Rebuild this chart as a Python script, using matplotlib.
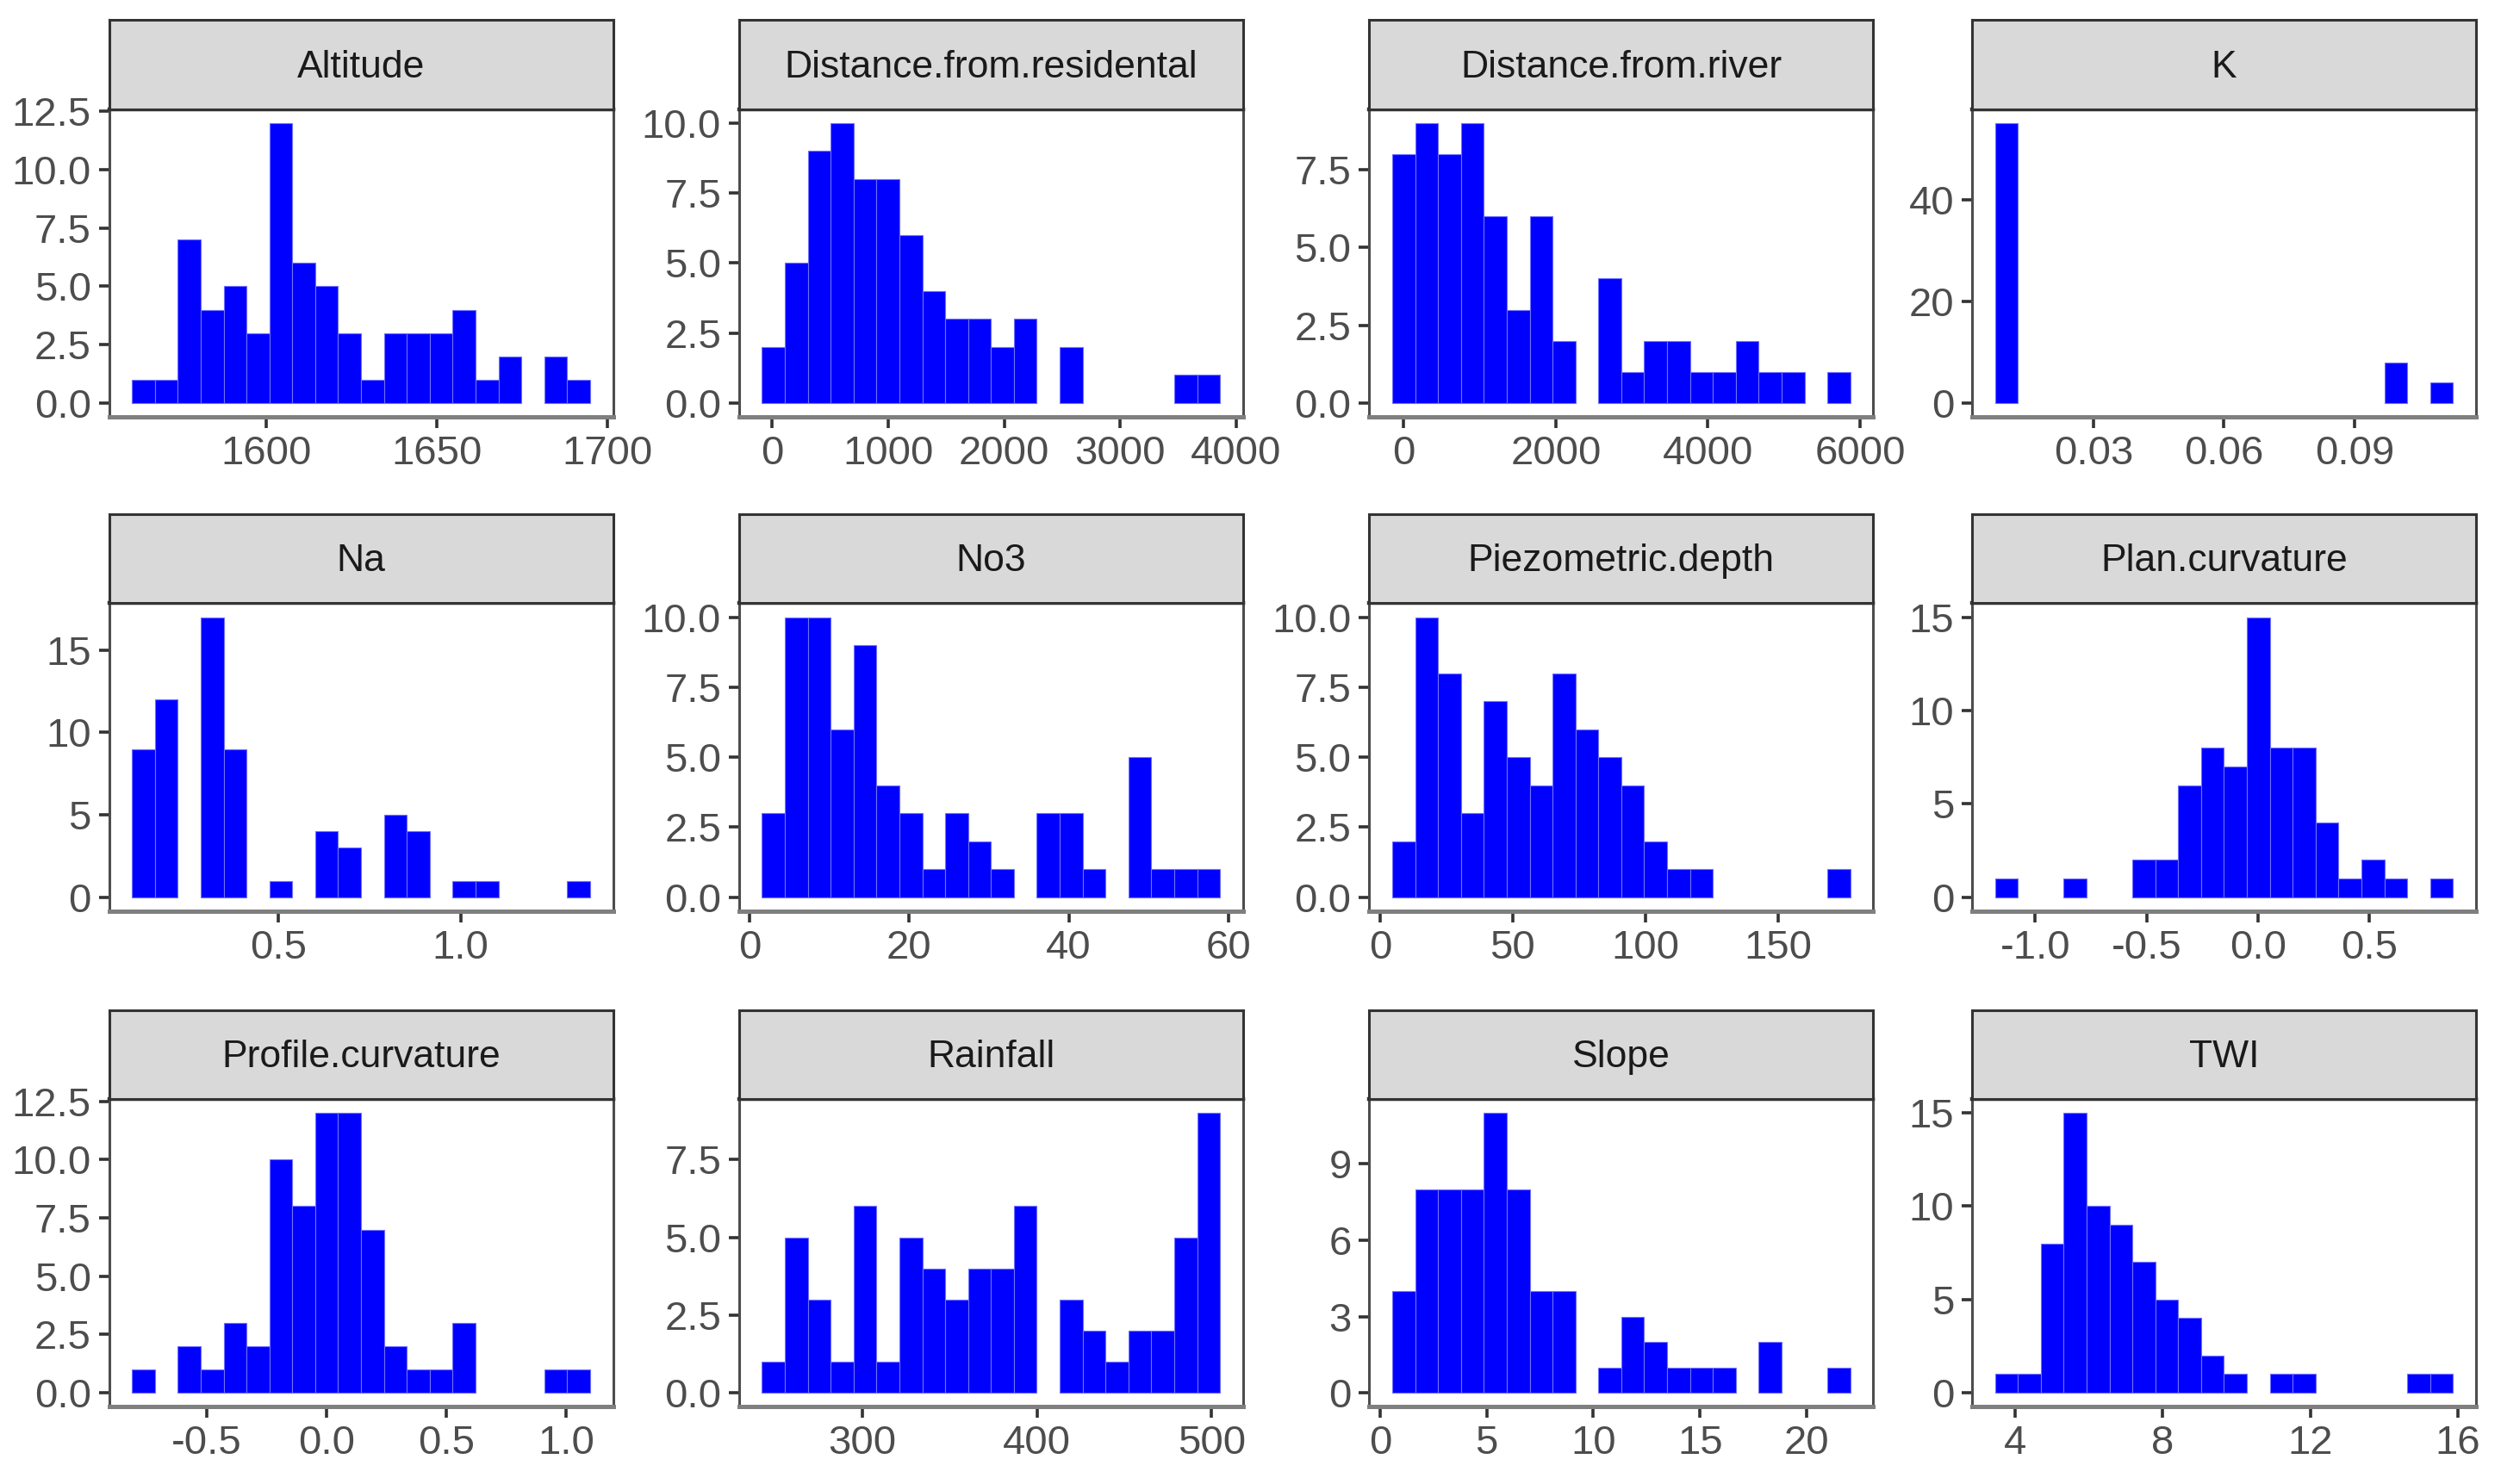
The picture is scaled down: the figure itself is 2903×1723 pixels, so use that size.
import numpy as np
import matplotlib
matplotlib.use("Agg")
import matplotlib.pyplot as plt
from matplotlib import font_manager

# histogram counts (20 bins per variable, n = 67)
names = ["Altitude", "Distance.from.residental", "Distance.from.river", "K",
         "Na", "No3", "Piezometric.depth", "Plan.curvature",
         "Profile.curvature", "Rainfall", "Slope", "TWI"]

# outer bin edges (low, high) of each histogram
ranges = [(1560.7, 1694.9), (-89.6, 3860.0), (-153.0, 5874.0), (0.0074, 0.1126),
          (0.097, 1.356), (1.56, 58.96), (4.55, 177.3), (-1.181, 0.877),
          (-0.812, 1.100), (242.7, 504.8), (0.57, 22.05), (3.447, 15.877)]

altitude = [1, 1, 7, 4, 5, 3, 12, 6, 5, 3, 1, 3, 3, 3, 4, 1, 2, 0, 2, 1]
dist_residental = [2, 5, 9, 10, 8, 8, 6, 4, 3, 3, 2, 3, 0, 2, 0, 0, 0, 0, 1, 1]
dist_river = [8, 9, 8, 9, 6, 3, 6, 2, 0, 4, 1, 2, 2, 1, 1, 2, 1, 1, 0, 1]
k_vals = [55, 0, 0, 0, 0, 0, 0, 0, 0, 0, 0, 0, 0, 0, 0, 0, 0, 8, 0, 4]
na = [9, 12, 0, 17, 9, 0, 1, 0, 4, 3, 0, 5, 4, 0, 1, 1, 0, 0, 0, 1]
no3 = [3, 10, 10, 6, 9, 4, 3, 1, 3, 2, 1, 0, 3, 3, 1, 0, 5, 1, 1, 1]
piezo = [2, 10, 8, 3, 7, 5, 4, 8, 6, 5, 4, 2, 1, 1, 0, 0, 0, 0, 0, 1]
plan_curv = [1, 0, 0, 1, 0, 0, 2, 2, 6, 8, 7, 15, 8, 8, 4, 1, 2, 1, 0, 1]
profile_curv = [1, 0, 2, 1, 3, 2, 10, 8, 12, 12, 7, 2, 1, 1, 3, 0, 0, 0, 1, 1]
rainfall = [1, 5, 3, 1, 6, 1, 5, 4, 3, 4, 4, 6, 0, 3, 2, 1, 2, 2, 5, 9]
slope = [4, 8, 8, 8, 11, 8, 4, 4, 0, 1, 3, 2, 1, 1, 1, 0, 2, 0, 0, 1]
twi = [1, 1, 8, 15, 10, 9, 7, 5, 4, 2, 1, 0, 1, 1, 0, 0, 0, 0, 1, 1]
counts = [altitude, dist_residental, dist_river, k_vals, na, no3, piezo,
          plan_curv, profile_curv, rainfall, slope, twi]

x_ticks = [[1600, 1650, 1700], [0, 1000, 2000, 3000, 4000], [0, 2000, 4000, 6000],
           [0.03, 0.06, 0.09], [0.5, 1.0], [0, 20, 40, 60], [0, 50, 100, 150],
           [-1.0, -0.5, 0.0, 0.5], [-0.5, 0.0, 0.5, 1.0], [300, 400, 500],
           [0, 5, 10, 15, 20], [4, 8, 12, 16]]
x_labels = [["1600", "1650", "1700"], ["0", "1000", "2000", "3000", "4000"],
            ["0", "2000", "4000", "6000"], ["0.03", "0.06", "0.09"], ["0.5", "1.0"],
            ["0", "20", "40", "60"], ["0", "50", "100", "150"],
            ["-1.0", "-0.5", "0.0", "0.5"], ["-0.5", "0.0", "0.5", "1.0"],
            ["300", "400", "500"], ["0", "5", "10", "15", "20"], ["4", "8", "12", "16"]]
y_ticks = [[0, 2.5, 5, 7.5, 10, 12.5], [0, 2.5, 5, 7.5, 10], [0, 2.5, 5, 7.5],
           [0, 20, 40], [0, 5, 10, 15], [0, 2.5, 5, 7.5, 10], [0, 2.5, 5, 7.5, 10],
           [0, 5, 10, 15], [0, 2.5, 5, 7.5, 10, 12.5], [0, 2.5, 5, 7.5],
           [0, 3, 6, 9], [0, 5, 10, 15]]
y_labels = [["0.0", "2.5", "5.0", "7.5", "10.0", "12.5"],
            ["0.0", "2.5", "5.0", "7.5", "10.0"], ["0.0", "2.5", "5.0", "7.5"],
            ["0", "20", "40"], ["0", "5", "10", "15"],
            ["0.0", "2.5", "5.0", "7.5", "10.0"], ["0.0", "2.5", "5.0", "7.5", "10.0"],
            ["0", "5", "10", "15"], ["0.0", "2.5", "5.0", "7.5", "10.0", "12.5"],
            ["0.0", "2.5", "5.0", "7.5"], ["0", "3", "6", "9"], ["0", "5", "10", "15"]]

available = {f.name for f in font_manager.fontManager.ttflist}
if "Liberation Sans Narrow" in available:
    font = "Liberation Sans Narrow"
    tick_size, strip_size = 20, 19
else:
    font = "Liberation Sans"
    tick_size, strip_size = 17, 16
plt.rcParams["font.family"] = [font, "DejaVu Sans"]

fig = plt.figure(figsize=(14.515, 8.615), dpi=200)

lefts = [0.0436, 0.2955, 0.5475, 0.7885]
bottoms = [0.719, 0.386, 0.052]
pw, ph, sh = 0.2015, 0.2075, 0.060

for i, name in enumerate(names):
    r, c = divmod(i, 4)
    ax = fig.add_axes([lefts[c], bottoms[r], pw, ph])
    lo, hi = ranges[i]
    edges = np.linspace(lo, hi, len(counts[i]) + 1)
    lws = [0.4 if v > 0 else 0 for v in counts[i]]
    ax.bar(edges[:-1], counts[i], width=np.diff(edges), align="edge",
           color="#0000FF", edgecolor="#7070FF", linewidth=lws)
    span = hi - lo
    ax.set_xlim(lo - 0.05 * span, hi + 0.05 * span)
    ymax = max(counts[i])
    ax.set_ylim(-0.05 * ymax, 1.05 * ymax)
    ax.set_xticks(x_ticks[i])
    ax.set_xticklabels(x_labels[i])
    ax.set_yticks(y_ticks[i])
    ax.set_yticklabels(y_labels[i])
    ax.tick_params(axis="both", labelsize=tick_size, labelcolor="#4D4D4D",
                   color="#333333", length=4.5, width=1.3, pad=3)
    for s in ax.spines.values():
        s.set_color("#4D4D4D")
        s.set_linewidth(1.1)
    ax.spines["bottom"].set_color("#7F7F7F")
    ax.spines["bottom"].set_linewidth(1.8)
    ax.spines["top"].set_color("#333333")
    ax.spines["top"].set_linewidth(1.6)

    st = fig.add_axes([lefts[c], bottoms[r] + ph, pw, sh])
    st.set_facecolor("#D9D9D9")
    st.set_xticks([])
    st.set_yticks([])
    for s in st.spines.values():
        s.set_color("#333333")
        s.set_linewidth(1.1)
    st.text(0.5, 0.47, name, ha="center", va="center", fontsize=strip_size,
            color="#1A1A1A", transform=st.transAxes)

fig.savefig("out.png", dpi=200)
